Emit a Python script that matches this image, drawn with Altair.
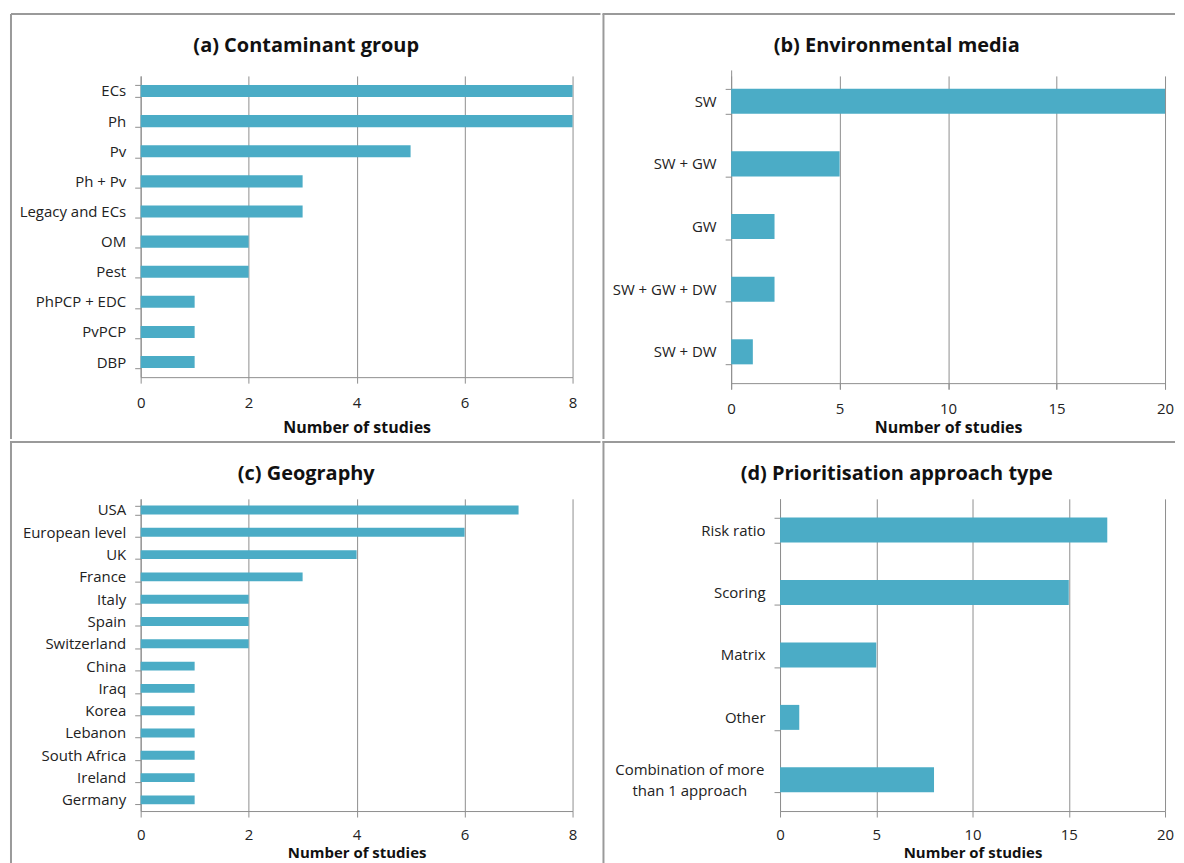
import altair as alt
import pandas as pd

# ---------------- data ----------------
a_cats = ["ECs", "Ph", "Pv", "Ph + Pv", "Legacy and ECs", "OM", "Pest",
          "PhPCP + EDC", "PvPCP", "DBP"]
a_vals = [8, 8, 5, 3, 3, 2, 2, 1, 1, 1]

b_cats = ["SW", "SW + GW", "GW", "SW + GW + DW", "SW + DW"]
b_vals = [20, 5, 2, 2, 1]

c_cats = ["USA", "European level", "UK", "France", "Italy", "Spain",
          "Switzerland", "China", "Iraq", "Korea", "Lebanon",
          "South Africa", "Ireland", "Germany"]
c_vals = [7, 6, 4, 3, 2, 2, 2, 1, 1, 1, 1, 1, 1, 1]

d_cats = ["Risk ratio", "Scoring", "Matrix", "Other",
          "Combination of more|than 1 approach"]
d_vals = [17, 15, 5, 1, 8]

titles = ["(a) Contaminant group", "(b) Environmental media",
          "(c) Geography", "(d) Prioritisation approach type"]
x_title = "Number of studies"

# ---------------- style ----------------
FONT = "Open Sans"
BAR = "#4BACC6"
GRID = "#8f8f8f"
FRAME = "#9a9a9a"


def panel(cats, vals, xmax, step, W, H, L, R, T, B, title, tx, ty,
          lab_pad, title_y, frame_lines, y_range=None, y_axis_extra=None,
          title_size=16):
    df = pd.DataFrame({"cat": cats, "val": vals})
    yax = dict(title=None, tickBand="extent", tickSize=6, labelPadding=9,
               labelFontSize=15, labelColor="#222", domainColor=GRID,
               tickColor=GRID, grid=False, labelLimit=300)
    if y_axis_extra:
        yax.update(y_axis_extra)
    yscale = dict(paddingInner=0.6, paddingOuter=0.3)
    if y_range:
        yscale["range"] = y_range
    bars = alt.Chart(df).mark_bar(color=BAR).encode(
        x=alt.X("val:Q",
                scale=alt.Scale(domain=[0, xmax], nice=False, zero=True),
                axis=alt.Axis(values=list(range(0, xmax + 1, step)),
                              title=x_title, grid=True, gridColor=GRID,
                              gridWidth=1, tickColor=GRID, tickSize=6,
                              domainColor=GRID, labelFontSize=15,
                              labelColor="#222", labelFlush=False,
                              labelBaseline="middle", labelPadding=lab_pad,
                              titleFontSize=title_size, titleFontWeight="bold",
                              titleColor="#111", titleY=title_y,
                              titleBaseline="middle")),
        y=alt.Y("cat:N", sort=cats, scale=alt.Scale(**yscale),
                axis=alt.Axis(**yax)),
    )
    one = pd.DataFrame({"k": [0]})
    box = alt.Chart(one).mark_rect(fillOpacity=0, strokeOpacity=0).encode(
        x=alt.value(-L), x2=alt.value(W + R),
        y=alt.value(-T), y2=alt.value(H + B))
    ttl = alt.Chart(one).mark_text(
        text=title, font=FONT, fontSize=20, fontWeight="bold", color="#111",
        align="center", baseline="middle").encode(
        x=alt.value(tx), y=alt.value(ty))
    layers = [box, bars, ttl]
    for (x1, x2, y1, y2) in frame_lines:
        layers.append(alt.Chart(one).mark_rule(color=FRAME, strokeWidth=2).encode(
            x=alt.value(x1), x2=alt.value(x2), y=alt.value(y1), y2=alt.value(y2)))
    return alt.layer(*layers).properties(width=W, height=H)


# panel (a)
W, H, L, R, T, B = 433, 302, 133, 28, 67, 62
pa = panel(a_cats, a_vals, 8, 2, W, H, L, R, T, B, titles[0], 166, -30, 19, 50,
           [(-130, -130, -62, H + B), (-130, W + R, -62, -62)])

# panel (b)  (plot origin shared with (a); category axis starts 6px higher)
W, H, L, R, T, B = 435, 308, 129, 10, 67, 56
pb = panel(b_cats, b_vals, 20, 5, W, H, L, R, T, B, titles[1], 166, -30, 19, 44,
           [(-L + 1, -L + 1, -62, H + B), (-L, W + R, -62, -62)],
           y_range=[-6, 308])

# panel (c)
W, H, L, R, T, B = 433, 313, 133, 28, 58, 52
pc = panel(c_cats, c_vals, 8, 2, W, H, L, R, T, B, titles[2], 166, -25, 18, 42,
           [(-130, -130, -T, H + B), (-130, W + R, -T + 1, -T + 1)],
           title_size=15)

# panel (d)
W, H, L, R, T, B = 386, 313, 178, 10, 58, 52
combo = d_cats[-1]
is_combo = f"datum.value === '{combo}'"
pd_ = panel(d_cats, d_vals, 20, 5, W, H, L, R, T, B, titles[3], 117, -25, 18, 42,
            [(-L + 1, -L + 1, -T, H + B), (-L, W + R, -T + 1, -T + 1)],
            title_size=15,
            y_axis_extra=dict(
                labelExpr="split(datum.label, '|')",
                labelLineHeight=21,
                labelAlign={"condition": {"test": is_combo, "value": "center"},
                            "value": "right"},
                labelPadding={"condition": {"test": is_combo, "value": 85},
                              "value": 9},
                labelOffset={"condition": {"test": is_combo, "value": -10},
                             "value": 0}))

chart = alt.concat(pa, pb, pc, pd_, columns=2, spacing=0, align="none").properties(
    padding=0
).configure(font=FONT).configure_view(strokeWidth=0)

chart.save("out.html", embed_options={"renderer": "svg", "actions": False})
